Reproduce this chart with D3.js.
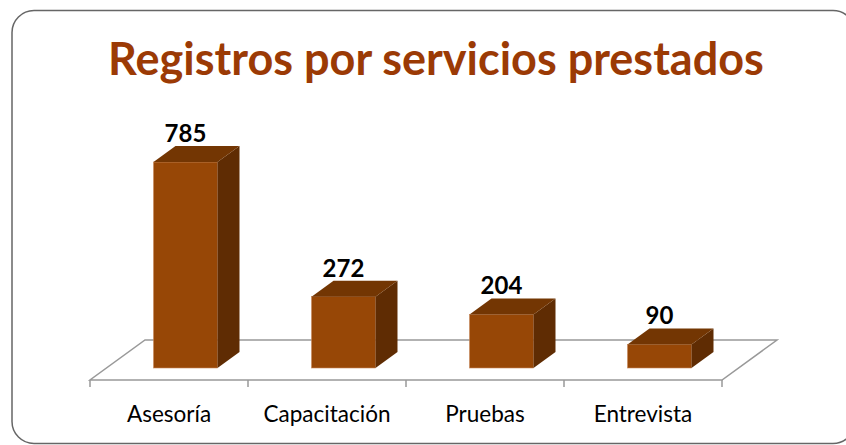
<html>
<meta charset="utf-8">
<meta name="viewport" content="width=device-width, initial-scale=1">
<head>
<script src="https://d3js.org/d3.v7.js"></script>
<style>
  body { margin: 0; background: #fff; }
  text { font-family: Lato, "Open Sans", sans-serif; }
</style>
</head>
<body>
<svg width="846" height="445"></svg>
<script>
// data
var categories = ["Asesoría", "Capacitación", "Pruebas", "Entrevista"];
var values = [785, 272, 204, 90];
var title = "Registros por servicios prestados";

var svg = d3.select("svg");

// frame
svg.append("rect")
  .attr("x", 12).attr("y", 10.5)
  .attr("width", 843).attr("height", 433)
  .attr("rx", 22).attr("ry", 22)
  .style("fill", "#fff")
  .style("stroke", "#666")
  .style("stroke-width", 1.5);

// title, fitted to the width of the original
var t = svg.append("text")
  .attr("x", 436).attr("y", 75)
  .attr("text-anchor", "middle")
  .style("font-weight", "bold")
  .style("font-size", "40px")
  .style("fill", "#9b3a05")
  .text(title);
var tw = t.node().getComputedTextLength();
t.style("font-size", (40 * 656 / tw) + "px");

// 3d floor geometry
var floorY = 380;
var depth = [55, -40];       // floor depth offset
var f0 = 0.3, f1 = 0.7;      // where the bars sit in depth

var x = d3.scaleBand().domain(categories).range([90, 722]).paddingInner(0).paddingOuter(0);
var y = d3.scaleLinear().domain([0, 800]).range([floorY + depth[1] * f0, floorY + depth[1] * f0 - 209.9]);

var floor = svg.append("g").attr("id", "floor");
var bars = svg.append("g").attr("id", "bars");
var labels = svg.append("g").attr("id", "labels");

var x0 = x.range()[0], x1 = x.range()[1];
floor.append("polygon")
  .attr("points", [
    [x0, floorY], [x1, floorY],
    [x1 + depth[0], floorY + depth[1]], [x0 + depth[0], floorY + depth[1]]
  ].map(function(p) { return p.join(","); }).join(" "))
  .style("fill", "none")
  .style("stroke", "#999")
  .style("stroke-width", 1.5);

// ticks on the front edge
var tickX = categories.map(function(c) { return x(c); }).concat([x1]);
floor.selectAll("line.tick")
  .data(tickX)
  .enter().append("line")
  .attr("class", "tick")
  .attr("x1", function(d) { return d; }).attr("x2", function(d) { return d; })
  .attr("y1", floorY).attr("y2", floorY + 7)
  .style("stroke", "#999")
  .style("stroke-width", 1.5);

// category labels
var cats = floor.selectAll("text.cat")
  .data(categories)
  .enter().append("text")
  .attr("class", "cat")
  .attr("x", function(d) { return x(d) + x.bandwidth() / 2; })
  .attr("y", 422)
  .attr("text-anchor", "middle")
  .style("font-size", "20px")
  .style("fill", "#000")
  .text(function(d) { return d; });
// size so that "Capacitación" is about as wide as in the original
var cw = cats.filter(function(d, i) { return i === 1; }).node().getComputedTextLength();
cats.style("font-size", (20 * 127 / cw) + "px");

var bw = x.bandwidth() * 0.405;
var bdx = depth[0] * (f1 - f0), bdy = depth[1] * (f1 - f0);

var g = bars.selectAll("g.bar")
  .data(categories.map(function(c, i) { return { cat: c, v: values[i] }; }))
  .enter().append("g")
  .attr("class", "bar");

function left(d) { return x(d.cat) + depth[0] * f0 + (x.bandwidth() - bw) / 2; }
function pts(a) { return a.map(function(p) { return p.join(","); }).join(" "); }

// front face
g.append("rect")
  .attr("x", left)
  .attr("y", function(d) { return y(d.v); })
  .attr("width", bw)
  .attr("height", function(d) { return y(0) - y(d.v); })
  .style("fill", "#974706")
  .style("stroke", "#c98a5c")
  .style("stroke-width", 0.6);

// side face
g.append("polygon")
  .attr("points", function(d) {
    var l = left(d), r = l + bw, yt = y(d.v), yb = y(0);
    return pts([[r, yt], [r + bdx, yt + bdy], [r + bdx, yb + bdy], [r, yb]]);
  })
  .style("fill", "#5f2c03");

// top face
g.append("polygon")
  .attr("points", function(d) {
    var l = left(d), r = l + bw, yt = y(d.v);
    return pts([[l, yt], [r, yt], [r + bdx, yt + bdy], [l + bdx, yt + bdy]]);
  })
  .style("fill", "#733603");

// value labels
labels.selectAll("text")
  .data(categories.map(function(c, i) { return { cat: c, v: values[i] }; }))
  .enter().append("text")
  .attr("x", function(d) { return left(d) + bw / 2; })
  .attr("y", function(d) { return y(d.v) + bdy - 4; })
  .attr("text-anchor", "middle")
  .style("font-weight", "bold")
  .style("font-size", "24px")
  .style("fill", "#000")
  .text(function(d) { return d.v; });
</script>
</body>
</html>
